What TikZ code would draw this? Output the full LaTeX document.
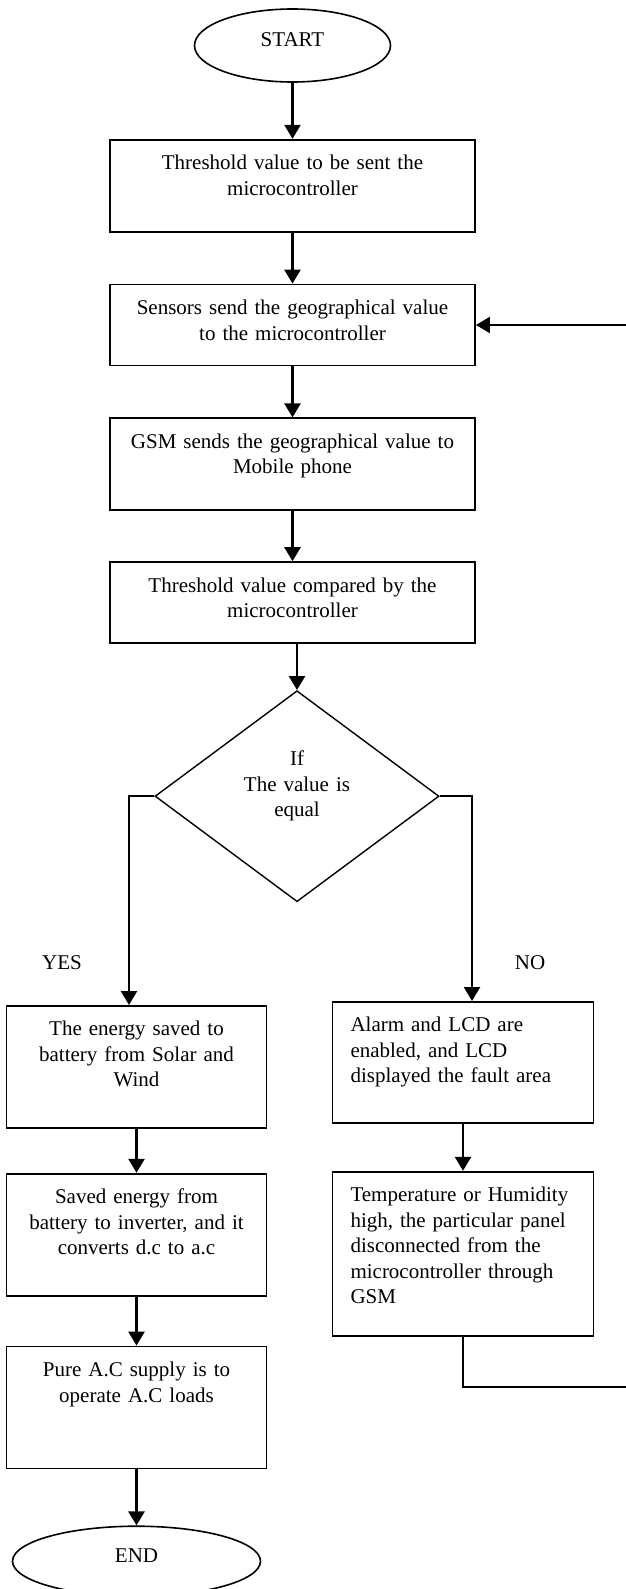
\documentclass[tikz,border=0pt]{standalone}
\usepackage{fontspec}
\setmainfont{Liberation Serif}
\usetikzlibrary{shapes.geometric,arrows.meta,positioning}

\begin{document}
\begin{tikzpicture}[x=1pt,y=-1pt,
    font=\fontsize{21}{25.5}\selectfont,
    box/.style={rectangle, draw, line width=1.8pt, anchor=north, text height=16pt, inner ysep=14pt},
    mainbox/.style={box, text width=357pt, inner xsep=4pt, align=center},
    leftbox/.style={box, text width=252pt, inner xsep=4pt, align=center},
    rightbox/.style={box, text width=225pt, inner xsep=18pt, align=left},
    term/.style={ellipse, draw, line width=1.6pt, text height=14pt, text depth=11pt},
    decide/.style={diamond, draw, line width=1.4pt, aspect=1.35, inner sep=0pt, text width=110pt, align=center,
      text height=16pt, text depth=77pt, minimum width=284pt, minimum height=211pt},
    go/.style={-{Triangle[length=14pt,width=16pt]}, line width=2.6pt}]
  \useasboundingbox (0,0) rectangle (625,1589);

  % main column
  \node [term, minimum width=196pt, minimum height=73pt] (start) at (292.5,45.5) {START};
  \node [mainbox, text depth=48pt, below=56pt of start] (thr) {Threshold value to be sent the\\ microcontroller};
  \node [mainbox, text depth=37pt, below=51pt of thr] (sens) {Sensors send the geographical value\\ to the microcontroller};
  \node [mainbox, text depth=48pt, below=51pt of sens] (gsm) {GSM sends the geographical value to\\ Mobile phone};
  \node [mainbox, text depth=37pt, below=50pt of gsm] (cmp) {Threshold value compared by the\\ microcontroller};
  \node [decide, below=46pt of cmp, xshift=4.5pt] (dec) {If\\ The value is\\ equal};

  % yes branch
  \node (yes) at (62,963) {YES};
  \node [leftbox, text depth=78pt] (save) at (136.5,1005) {The energy saved to\\ battery from Solar and\\ Wind};
  \node [leftbox, text depth=78pt, below=44pt of save] (stor) {Saved energy from\\ battery to inverter, and it\\ converts d.c to a.c};
  \node [leftbox, text depth=78pt, below=49pt of stor] (pure) {Pure A.C supply is to\\ operate A.C loads};
  \node [term, minimum width=248pt, minimum height=70pt, below=56pt of pure] (end) {END};

  % no branch
  \node (no) at (530,963) {NO};
  \node [rightbox, text depth=77pt] (alarm) at (463,1001) {Alarm and LCD are\\ enabled, and LCD\\ displayed the fault area};
  \node [rightbox, text depth=120pt, below=47pt of alarm] (temp) {Temperature or Humidity\\ high, the particular panel\\ disconnected from the\\ microcontroller through\\ GSM};
  \coordinate (back) at (628,1387);

  \draw [go] (start) -- (thr);
  \draw [go] (thr) -- (sens);
  \draw [go] (sens) -- (gsm);
  \draw [go] (gsm) -- (cmp);
  \draw [go] (dec.north |- cmp.south) -- (dec.north);
  \draw [go, line width=2.2pt] (dec.west) -| ([xshift=-7.5pt]save.north);
  \draw [go, line width=2.2pt] (dec.east) -| ([xshift=9pt]alarm.north);
  \draw [go] (save) -- (stor);
  \draw [go] (stor) -- (pure);
  \draw [go] (pure) -- (end);
  \draw [go] (alarm) -- (temp);
  \draw [go, line width=2pt] (temp.south) |- (back) |- (sens.east);
\end{tikzpicture}
\end{document}
